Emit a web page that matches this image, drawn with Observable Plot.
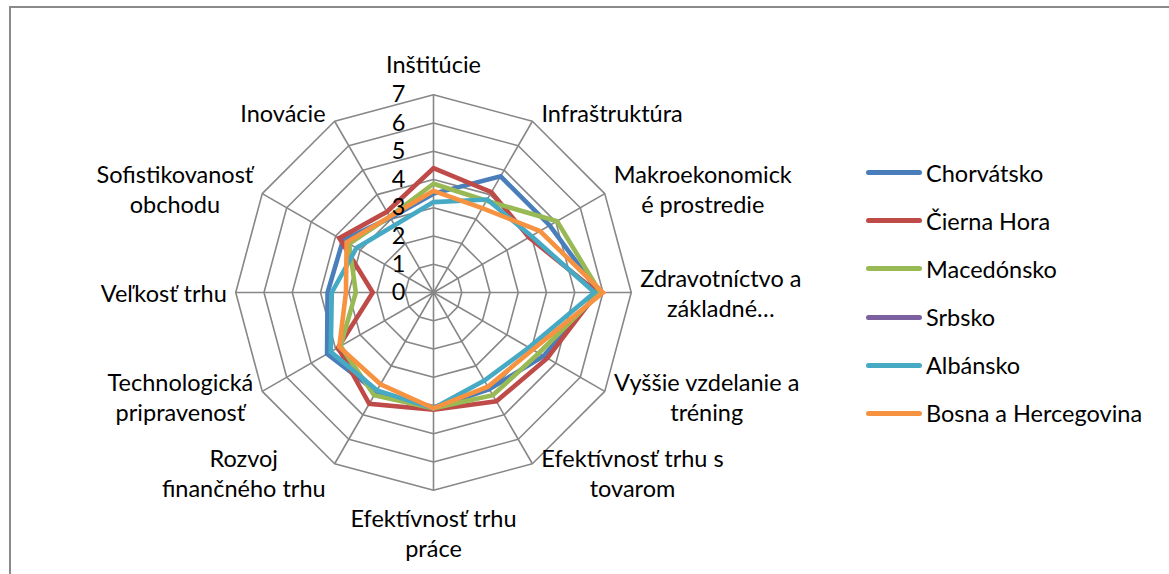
<!DOCTYPE html>
<html>
<head>
<meta charset="utf-8">
<script src="https://cdn.jsdelivr.net/npm/d3@7"></script>
<script src="https://cdn.jsdelivr.net/npm/@observablehq/plot@0.6"></script>
<style>
  body { margin: 0; background: #fff; }
  #wrap { position: relative; width: 1169px; height: 574px; overflow: hidden; font-family: Lato, sans-serif; background: #fff; }
  #frame { position: absolute; left: 9px; top: 6px; width: 1300px; height: 700px; border-left: 2px solid #8a8a8a; border-top: 2px solid #8a8a8a; pointer-events: none; }
  #chart { position: absolute; left: 0; top: 0; }
  #legend { position: absolute; left: 866px; top: 0; }
  .row { position: absolute; left: 0; height: 30px; white-space: nowrap; }
  .sw { position: absolute; left: 0; width: 56px; height: 5px; border-radius: 3px; }
  .lb { position: absolute; left: 60px; color: #000; }
</style>
</head>
<body>
<div id="wrap">
  <div id="chart"></div>
  <div id="frame"></div>
  <div id="legend"></div>
</div>
<script>
// ---- data ----
const axes = [
  "Inštitúcie",
  "Infraštruktúra",
  "Makroekonomick\né prostredie",
  "Zdravotníctvo a\nzákladné…",
  "Vyššie vzdelanie a\ntréning",
  "Efektívnosť trhu s\ntovarom",
  "Efektívnosť trhu\npráce",
  "Rozvoj\nfinančného trhu",
  "Technologická\npripravenosť",
  "Veľkosť trhu",
  "Sofistikovanosť\nobchodu",
  "Inovácie"
];
const seriesNames = ["Chorvátsko", "Čierna Hora", "Macedónsko", "Srbsko", "Albánsko", "Bosna a Hercegovina"];
const seriesColors = ["#4A7EBB", "#BE4B48", "#98B954", "#7D60A0", "#46AAC5", "#F69240"];
const chorvatsko = [3.5, 4.75, 4.75, 5.85, 4.5, 3.95, 4.1, 4.05, 4.35, 3.75, 3.7, 3.05];
const ciernaHora = [4.4, 4.1, 3.9, 5.8, 4.65, 4.45, 4.15, 4.55, 3.9, 2.15, 3.85, 3.3];
const macedonsko = [3.85, 3.75, 5.05, 5.9, 4.3, 4.2, 4.1, 4.2, 3.8, 2.75, 3.45, 3.1];
const srbsko = []; // no visible line in the reference
const albansko = [3.2, 3.8, 4.0, 5.7, 3.9, 3.6, 4.1, 4.0, 4.2, 3.6, 3.15, 2.75];
const bosna = [3.6, 3.45, 4.35, 6.0, 4.05, 3.85, 4.1, 3.75, 3.85, 3.1, 3.55, 3.1];
const seriesValues = [chorvatsko, ciernaHora, macedonsko, srbsko, albansko, bosna];
const tickValues = [0, 1, 2, 3, 4, 5, 6, 7];
const rMax = 7;

// ---- layout ----
const W = 1169, H = 574;
const cx = 433, cy = 292, k = 28.25; // px per unit
const FONT = "Lato";
const FS = 23.5;
const LH = 1.28;
const gridColor = "#878787";

const n = axes.length;
const ang = i => i * 2 * Math.PI / n;

// grid rings
const ringPts = [];
for (const r of tickValues.filter(t => t > 0)) {
  for (let i = 0; i <= n; i++) ringPts.push({r, x: r * Math.sin(ang(i % n)), y: r * Math.cos(ang(i % n))});
}
const spokes = axes.map((a, i) => ({x2: rMax * Math.sin(ang(i)), y2: rMax * Math.cos(ang(i))}));

// series points
const linePts = [];
seriesNames.forEach((s, si) => {
  const vals = seriesValues[si];
  if (!vals.length) return;
  for (let i = 0; i <= n; i++) {
    const v = vals[i % n];
    linePts.push({s, x: v * Math.sin(ang(i % n)), y: v * Math.cos(ang(i % n))});
  }
});

// label positions
const ctx = document.createElement("canvas").getContext("2d");
ctx.font = `${FS}px ${FONT}`;
const gap = 9;
const labelData = axes.map((t, i) => {
  const lines = t.split("\n");
  const w = Math.max(...lines.map(l => ctx.measureText(l).width));
  const h = lines.length * FS * LH;
  const s = Math.sin(ang(i)), c = Math.cos(ang(i));
  let x = rMax * s, y = rMax * c;
  if (Math.abs(s) < 0.01) {
    y += Math.sign(c) * ((c > 0 ? 16 : 12) + h / 2) / k;
  } else {
    x += Math.sign(s) * (gap + w / 2) / k;
    y += c * 10 / k;
  }
  return {t, x, y};
});

const plot = Plot.plot({
  width: W,
  height: H,
  margin: 0,
  x: {domain: [-cx / k, (W - cx) / k], axis: null},
  y: {domain: [-(H - cy) / k, cy / k], axis: null},
  color: {domain: seriesNames, range: seriesColors},
  style: {fontFamily: FONT, background: "transparent"},
  marks: [
    Plot.line(ringPts, {x: "x", y: "y", z: "r", stroke: gridColor, strokeWidth: 1.6}),
    Plot.link(spokes, {x1: 0, y1: 0, x2: "x2", y2: "y2", stroke: gridColor, strokeWidth: 1.6}),
    Plot.line(linePts, {x: "x", y: "y", z: "s", stroke: "s", strokeWidth: 4.6, strokeLinejoin: "miter", strokeMiterlimit: 4}),
    Plot.text(tickValues, {x: 0, y: d => d, text: d => String(d), textAnchor: "end", dx: -28, fontSize: FS, fill: "#000"}),
    Plot.text(labelData, {x: "x", y: "y", text: "t", textAnchor: "middle", lineAnchor: "middle", lineHeight: LH, fontSize: FS, fill: "#000"})
  ]
});
document.getElementById("chart").appendChild(plot);

// legend
const legend = document.getElementById("legend");
seriesNames.forEach((s, i) => {
  const yc = 172.7 + 48.1 * i;
  const row = document.createElement("div");
  row.className = "row";
  row.style.top = (yc - 15) + "px";
  row.innerHTML = `<div class="sw" style="top:12.5px;background:${seriesColors[i]}"></div><div class="lb" style="font-size:${FS}px;line-height:30px;top:0">${s}</div>`;
  legend.appendChild(row);
});
</script>
</body>
</html>
